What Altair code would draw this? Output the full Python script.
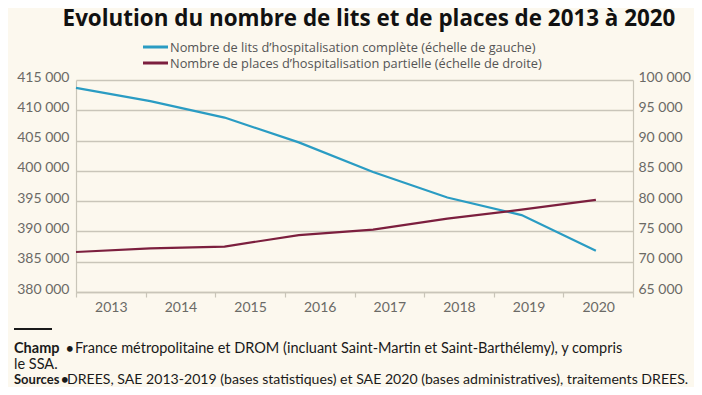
import altair as alt
import pandas as pd

years = [2013, 2014, 2015, 2016, 2017, 2018, 2019, 2020]
lits = [413700, 411500, 408800, 404700, 399800, 395600, 392700, 386800]
places = [71600, 72200, 72500, 74400, 75300, 77100, 78600, 80200]
series_names = [
    "Nombre de lits d’hospitalisation complète (échelle de gauche)",
    "Nombre de places d’hospitalisation partielle (échelle de droite)",
]
colors = ["#2a9cc3", "#7c1f3e"]
left_ticks = list(range(380000, 415001, 5000))
right_ticks = list(range(65000, 100001, 5000))

title_text = "Evolution du nombre de lits et de places de 2013 à 2020"
champ_bold = "Champ"
champ_text = "France métropolitaine et DROM (incluant Saint-Martin et Saint-Barthélemy), y compris"
champ_text2 = "le SSA."
sources_bold = "Sources"
sources_text = "DREES, SAE 2013-2019 (bases statistiques) et SAE 2020 (bases administratives), traitements DREES."
bullet = "•"

FONT = "Lato"
GRID = "#c9c5b9"
LABEL = "#6b6a66"
BG = "#fcf8ee"

df_lits = pd.DataFrame({"year": years, "value": lits, "series": series_names[0]})
df_places = pd.DataFrame({"year": years, "value": places, "series": series_names[1]})

fmt = "replace(format(datum.value, ','), ',', ' ')"

color_enc = alt.Color(
    "series:N",
    scale=alt.Scale(domain=series_names, range=colors),
    legend=None,
)

xq = alt.X("year:Q", scale=alt.Scale(domain=[2013, 2020.5], nice=False, zero=False), axis=None)

left = alt.Chart(df_lits).mark_line(strokeWidth=2.2).encode(
    x=xq,
    y=alt.Y(
        "value:Q",
        scale=alt.Scale(domain=[380000, 415000], nice=False, zero=False),
        axis=alt.Axis(
            title=None, orient="left", values=left_ticks, labelExpr=fmt,
            grid=True, gridColor=GRID, gridWidth=1.5,
            domain=True, domainColor=GRID, domainWidth=1.2,
            ticks=False, labelFontSize=14, labelColor=LABEL, labelFont=FONT,
            labelPadding=7, labelOffset=-3,
        ),
    ),
    color=color_enc,
)

right = alt.Chart(df_places).mark_line(strokeWidth=2.2).encode(
    x=xq,
    y=alt.Y(
        "value:Q",
        scale=alt.Scale(domain=[65000, 100000], nice=False, zero=False),
        axis=alt.Axis(
            title=None, orient="right", values=right_ticks, labelExpr=fmt,
            grid=False, domain=True, domainColor=GRID, domainWidth=1.2,
            ticks=False, labelFontSize=14, labelColor=LABEL, labelFont=FONT,
            labelPadding=5, labelOffset=-3,
        ),
    ),
    color=color_enc,
)

xaxis = alt.Chart(pd.DataFrame({"year": years})).mark_rule(opacity=0).encode(
    x=alt.X(
        "year:O",
        scale=alt.Scale(type="band", paddingInner=0, paddingOuter=0),
        axis=alt.Axis(
            title=None, labelAngle=0, tickBand="extent", ticks=True, tickSize=5,
            tickColor=GRID, tickWidth=1.2, domain=True, domainColor=GRID, domainWidth=1.5,
            labelFontSize=14, labelColor=LABEL, labelFont=FONT, labelPadding=3,
        ),
    )
)


def txt(s, x, y, size, weight="normal", align="left", color="#1a1a1a", font=FONT, baseline="alphabetic"):
    return alt.Chart(pd.DataFrame({"t": [s]})).mark_text(
        font=font, fontSize=size, fontWeight=weight, align=align,
        baseline=baseline, color=color,
    ).encode(text="t:N", x=alt.value(x), y=alt.value(y))


def legend_row(i, y):
    sym = alt.Chart(pd.DataFrame({"a": [0]})).mark_rule(color=colors[i], strokeWidth=3).encode(
        x=alt.value(67), x2=alt.value(92), y=alt.value(y)
    )
    lab = txt(series_names[i], 94, y + 0.5, 12.8, color="#555555", font="Open Sans", baseline="middle")
    return [sym, lab]


legend_layers = legend_row(0, -33) + legend_row(1, -17)

title = txt(title_text, 293, -54, 22.4, weight="bold", align="center", color="#111111", font="Open Sans")
f1b = txt(champ_bold, -62, 273, 14.5, weight="bold")
f1d = txt(bullet, -10, 273, 13, weight="bold")
f1 = txt(champ_text, -1, 273, 14.5)
f2 = txt(champ_text2, -62, 289, 14.5)
f3b = txt(sources_bold, -62, 304, 13, weight="bold")
f3d = txt(bullet, -15, 304, 13, weight="bold")
f3 = txt(sources_text, -9, 304, 14.1)

sep = alt.Chart(pd.DataFrame({"a": [0]})).mark_rule(color="#1a1a1a", strokeWidth=2).encode(
    x=alt.value(-62), x2=alt.value(-24), y=alt.value(249)
)

chart = (
    alt.layer(left, right, xaxis, title, *legend_layers, sep, f1b, f1d, f1, f2, f3b, f3d, f3)
    .resolve_scale(x="independent", y="independent")
    .properties(
        width=557,
        height=212,
        autosize="none",
        padding={"left": 68, "top": 72, "right": 61, "bottom": 95},
        background=BG,
    )
    .configure_view(stroke=None)
)

chart.save("out.html", embed_options={"renderer": "svg", "actions": False})
